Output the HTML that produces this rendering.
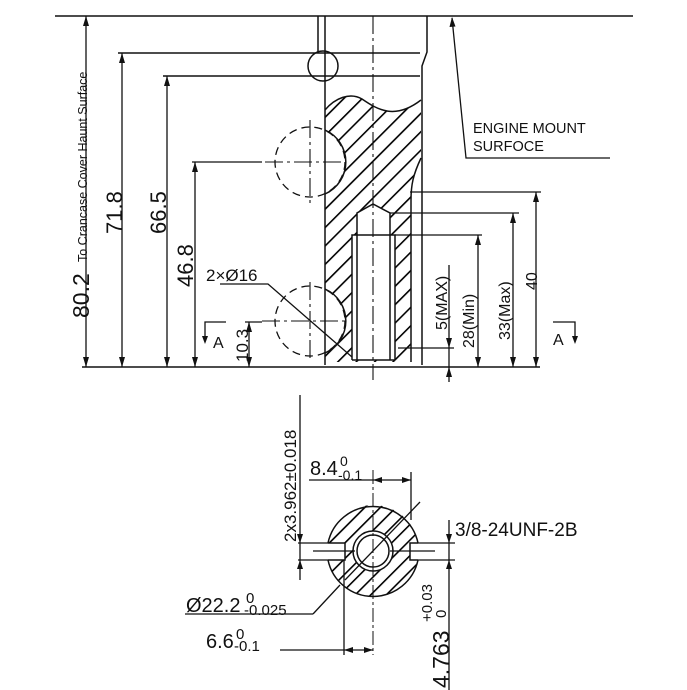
<!DOCTYPE html>
<html><head><meta charset="utf-8"><style>
html,body{margin:0;padding:0;background:#fff;}
svg{display:block;}
text{font-family:"Liberation Sans",sans-serif;fill:#111;}
</style></head><body>
<svg width="687" height="690" viewBox="0 0 687 690" xmlns="http://www.w3.org/2000/svg">
<defs>
<pattern id="h1" patternUnits="userSpaceOnUse" width="13" height="13" patternTransform="rotate(45)">
<rect x="0" y="0" width="1.6" height="13" fill="#000"/>
</pattern>
<pattern id="h2" patternUnits="userSpaceOnUse" width="11" height="11" patternTransform="rotate(45)">
<rect x="0" y="0" width="1.6" height="11" fill="#000"/>
</pattern>
<mask id="m1">
<rect x="0" y="0" width="687" height="690" fill="#fff"/>
<circle cx="310" cy="162" r="35" fill="#000"/>
<circle cx="310" cy="321" r="35" fill="#000"/>
<path d="M357 360 L357 213 L373 204 L390 213 L390 235 L395 235 L395 360 Z" fill="#000"/>
<rect x="352" y="235" width="43" height="125" fill="#000"/>
</mask>
<mask id="m2">
<rect x="0" y="0" width="687" height="690" fill="#fff"/>
<circle cx="373" cy="551" r="20" fill="#000"/>
<rect x="320" y="543" width="25" height="17" fill="#000"/>
<rect x="410" y="543" width="20" height="17" fill="#000"/>
</mask>
</defs>
<g stroke="#111" stroke-width="1.5" fill="none">
<line x1="55" y1="16" x2="633" y2="16"/>
<line x1="82" y1="367" x2="540" y2="367"/>
<path d="M325 110 C335 98 350 92 362 99 C378 110 395 120 421 100 L421 158 C413 175 411 185 411 200 L411 362 L325 362 Z" fill="url(#h1)" stroke="none" mask="url(#m1)"/>
<line x1="325" y1="16" x2="325" y2="365"/>
<line x1="318" y1="16" x2="318" y2="53"/>
<path d="M427 16 L427 52 L422 66 L422 365"/>
<path d="M325 110 C335 98 350 92 362 99 C378 110 395 120 421 100"/>
<path d="M421 158 C413 175 411 185 411 200 L411 362"/>
<circle cx="323" cy="66" r="15"/>
<line x1="118" y1="53" x2="420" y2="53"/>
<line x1="163" y1="76" x2="420" y2="76"/>
<path d="M357 360 L357 213 L373 204 L390 213 L390 360"/>
<path d="M352 360 L352 235 L395 235 L395 360"/>
<line x1="352" y1="360" x2="395" y2="360"/>
<path d="M325 130 A35 35 0 0 1 325 194"/>
<path d="M325 289 A35 35 0 0 1 325 353"/>
</g>
<g stroke="#111" stroke-width="1.3" fill="none" stroke-dasharray="8,5">
<circle cx="310" cy="162" r="35"/>
<circle cx="310" cy="321" r="35"/>
</g>
<g stroke="#111" stroke-width="1.1" fill="none" stroke-dasharray="18,4,3,4">
<line x1="373" y1="16" x2="373" y2="380"/>
<line x1="310" y1="120" x2="310" y2="205"/>
<line x1="310" y1="282" x2="310" y2="362"/>
<line x1="262" y1="321" x2="345" y2="321"/>
<line x1="265" y1="162" x2="345" y2="162"/>
</g>
<g stroke="#111" stroke-width="1.3" fill="none">
<line x1="86" y1="16" x2="86" y2="367"/>
<line x1="122" y1="53" x2="122" y2="367"/>
<line x1="167" y1="76" x2="167" y2="367"/>
<line x1="192" y1="162" x2="262" y2="162"/>
<line x1="195" y1="162" x2="195" y2="367"/>
<line x1="245" y1="322" x2="262" y2="322"/>
<line x1="249" y1="322" x2="249" y2="367"/>
<path d="M226 322 L205 322 L205 340"/>
<path d="M220 284 L268 284 L352 357"/>
<line x1="410" y1="192" x2="541" y2="192"/>
<line x1="390" y1="213" x2="519" y2="213"/>
<line x1="395" y1="235" x2="482" y2="235"/>
<line x1="536" y1="192" x2="536" y2="367"/>
<line x1="513" y1="213" x2="513" y2="367"/>
<line x1="478" y1="235" x2="478" y2="367"/>
<line x1="449" y1="265" x2="449" y2="382"/>
<line x1="398" y1="348" x2="454" y2="348"/>
<path d="M553 322 L575 322 L575 340"/>
<path d="M452 18 L466 158 L610 158"/>
</g>
<g fill="#111">
<path d="M86 16 l-3 10 h6z M86 367 l-3 -10 h6z"/>
<path d="M122 53 l-3 10 h6z M122 367 l-3 -10 h6z"/>
<path d="M167 76 l-3 10 h6z M167 367 l-3 -10 h6z"/>
<path d="M195 162 l-3 10 h6z M195 367 l-3 -10 h6z"/>
<path d="M249 322 l-3 10 h6z M249 367 l-3 -10 h6z"/>
<path d="M536 192 l-3 10 h6z M536 367 l-3 -10 h6z"/>
<path d="M513 213 l-3 10 h6z M513 367 l-3 -10 h6z"/>
<path d="M478 235 l-3 10 h6z M478 367 l-3 -10 h6z"/>
<path d="M449 348 l-3 -10 h6z M449 367 l-3 10 h6z"/>
<path d="M205 344 l-3 -8 h6z M575 344 l-3 -8 h6z"/>
<path d="M452 17 l-2.5 10 l6 -0.5z"/>
</g>
<text transform="translate(89,318) rotate(-90)" font-size="23">80.2</text>
<text transform="translate(87,262) rotate(-90)" font-size="12.5">To Crancase Cover Haunt Surface</text>
<text transform="translate(122,234) rotate(-90)" font-size="22">71.8</text>
<text transform="translate(166,234) rotate(-90)" font-size="22">66.5</text>
<text transform="translate(193,287) rotate(-90)" font-size="22">46.8</text>
<text x="206" y="281" font-size="17">2×Ø16</text>
<text transform="translate(248,362) rotate(-90)" font-size="17">10.3</text>
<text x="213" y="348" font-size="16">A</text>
<text x="473" y="133" font-size="14.5">ENGINE MOUNT</text>
<text x="473" y="151" font-size="14.5">SURFOCE</text>
<text transform="translate(447,330) rotate(-90)" font-size="16">5(MAX)</text>
<text transform="translate(474,348) rotate(-90)" font-size="16">28(Min)</text>
<text transform="translate(510,340) rotate(-90)" font-size="16">33(Max)</text>
<text transform="translate(537,290) rotate(-90)" font-size="16">40</text>
<text x="553" y="345" font-size="16">A</text>
<path d="M373 551 m-46 0 a46 46 0 1 0 92 0 a46 46 0 1 0 -92 0" fill="url(#h2)" stroke="none" mask="url(#m2)"/>
<g stroke="#111" stroke-width="1.5" fill="none">
<path d="M328 543 L345 543 L345 560 L328 560"/>
<path d="M418 543 L410 543 L410 560 L418 560"/>
<path d="M328 543 A46 46 0 0 1 418 543"/>
<path d="M328 560 A46 46 0 0 0 418 560"/>
<circle cx="373" cy="551" r="20"/>
<circle cx="373" cy="551" r="16"/>
</g>
<g stroke="#111" stroke-width="1.3" fill="none">
<line x1="300" y1="395" x2="300" y2="580"/>
<line x1="298" y1="543" x2="328" y2="543"/>
<line x1="298" y1="560" x2="328" y2="560"/>
<line x1="313" y1="551" x2="355" y2="551"/>
<line x1="390" y1="551" x2="435" y2="551"/>
<line x1="418" y1="543" x2="455" y2="543"/>
<line x1="418" y1="560" x2="455" y2="560"/>
<line x1="449" y1="520" x2="449" y2="690"/>
<line x1="309" y1="480" x2="411" y2="480"/>
<line x1="411" y1="472" x2="411" y2="520"/>
<line x1="344" y1="560" x2="344" y2="655"/>
<line x1="280" y1="650" x2="373" y2="650"/>
<line x1="185" y1="614" x2="313" y2="614"/>
<line x1="313" y1="614" x2="340" y2="585"/>
<line x1="345" y1="580" x2="420" y2="502"/>
</g>
<g stroke="#111" stroke-width="1" fill="none" stroke-dasharray="14,3,3,3">
<line x1="373" y1="470" x2="373" y2="655"/>
</g>
<g fill="#111">
<path d="M300 543 l-3 -9 h6z M300 560 l-3 9 h6z"/>
<path d="M449 543 l-3 -9 h6z M449 560 l-3 9 h6z"/>
<path d="M373 480 l9 -3 v6z M411 480 l-9 -3 v6z"/>
<path d="M344 650 l9 -3 v6z M373 650 l-9 -3 v6z"/>
</g>
<text transform="translate(296,542) rotate(-90)" font-size="17">2x3.962±0.018</text>
<text x="310" y="475" font-size="20">8.4</text>
<text x="340" y="466" font-size="14">0</text>
<text x="338" y="480" font-size="14">-0.1</text>
<text x="455" y="536" font-size="19">3/8-24UNF-2B</text>
<text x="186" y="612" font-size="20">Ø22.2</text>
<text x="246" y="603" font-size="15">0</text>
<text x="244" y="615" font-size="15">-0.025</text>
<text x="206" y="648" font-size="20">6.6</text>
<text x="236" y="639" font-size="15">0</text>
<text x="234" y="651" font-size="15">-0.1</text>
<text transform="translate(449,688) rotate(-90)" font-size="23">4.763</text>
<text transform="translate(432,622) rotate(-90)" font-size="15">+0.03</text>
<text transform="translate(446,618) rotate(-90)" font-size="15">0</text>
</svg>
</body></html>
